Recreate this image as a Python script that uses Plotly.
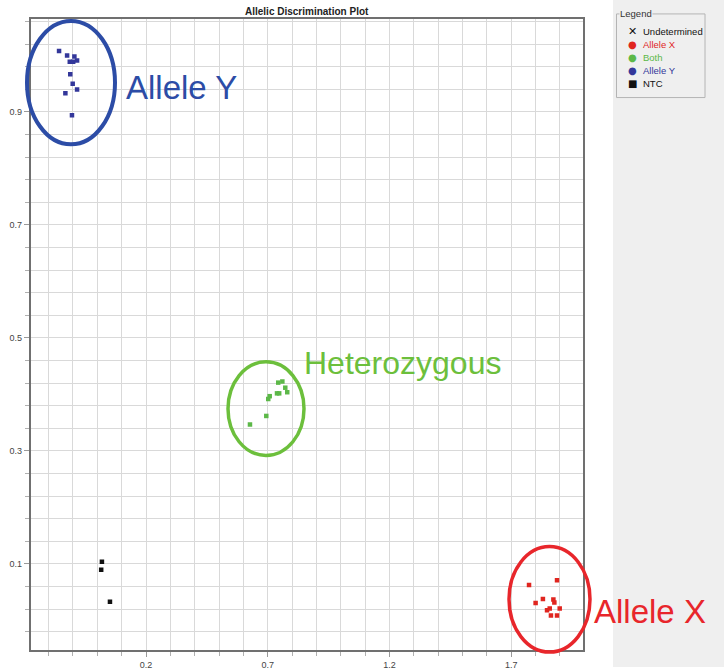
import plotly.graph_objects as go

# Allelic discrimination results (Allele X signal vs Allele Y signal)
allele_y_x = [-0.157, -0.124, -0.094, -0.113, -0.099, -0.083, -0.111, -0.101, -0.083, -0.131, -0.104]
allele_y_y = [1.008, 1.000, 0.998, 0.989, 0.989, 0.991, 0.967, 0.950, 0.940, 0.933, 0.894]

both_x = [0.743, 0.760, 0.772, 0.780, 0.738, 0.747, 0.708, 0.702, 0.694, 0.627]
both_y = [0.421, 0.423, 0.412, 0.404, 0.402, 0.402, 0.397, 0.392, 0.362, 0.347]

allele_x_x = [1.773, 1.888, 1.830, 1.800, 1.873, 1.877, 1.858, 1.847, 1.899, 1.863, 1.888]
allele_x_y = [0.063, 0.071, 0.038, 0.031, 0.037, 0.032, 0.021, 0.018, 0.021, 0.009, 0.009]

ntc_x = [0.019, 0.016, 0.052]
ntc_y = [0.104, 0.090, 0.033]

legend_labels = ["Undetermined", "Allele X", "Both", "Allele Y", "NTC"]
legend_glyphs = ["\u2715", "\u25cf", "\u25cf", "\u25cf", "\u25a0"]

# Colours
BLUE = "#33379a"
GREEN = "#5cb848"
RED = "#e0251f"
BLACK = "#111111"
legend_colors = [BLACK, RED, GREEN, BLUE, BLACK]

W, H = 724, 670
FONT = "Liberation Sans, Arial, sans-serif"


def fx(p):
    return p / W


def fy(p):
    return 1 - p / H


fig = go.Figure()

for xs, ys, col, name in [
    (allele_y_x, allele_y_y, BLUE, "Allele Y"),
    (both_x, both_y, GREEN, "Both"),
    (allele_x_x, allele_x_y, RED, "Allele X"),
    (ntc_x, ntc_y, BLACK, "NTC"),
]:
    fig.add_trace(go.Scatter(
        x=xs, y=ys, mode="markers", name=name, showlegend=False,
        marker=dict(symbol="square", size=4.5, color=col, line=dict(width=0)),
    ))

grid = "#d9d9d9"
axis_common = dict(
    showgrid=True, gridcolor=grid, gridwidth=1, zeroline=False,
    showline=True, linecolor="#707070", linewidth=1.5, mirror=True,
    ticks="outside", ticklen=5, tickcolor="#9a9a9a",
    tickfont=dict(family=FONT, size=9, color="#444444"),
    tickformat=".1f",
)

fig.update_layout(
    width=W, height=H, autosize=False,
    margin=dict(l=0, r=0, t=0, b=0),
    paper_bgcolor="white", plot_bgcolor="white",
    showlegend=False,
    xaxis=dict(
        domain=[fx(30.5), fx(582.7)], range=[-0.2743, 1.9934],
        tick0=0.2, dtick=0.5,
        minor=dict(tick0=0.2, dtick=0.1, showgrid=True, gridcolor=grid,
                   ticks="outside", ticklen=4, tickcolor="#b0b0b0"),
        **axis_common,
    ),
    yaxis=dict(
        domain=[fy(653.3), fy(19.3)], range=[-0.0529, 1.0642],
        tick0=0.1, dtick=0.2,
        minor=dict(tick0=0.1, dtick=0.04, showgrid=True, gridcolor=grid,
                   ticks="outside", ticklen=4, tickcolor="#b0b0b0"),
        **axis_common,
    ),
)

shapes = []
# Side panel holding the legend
shapes.append(dict(type="rect", xref="paper", yref="paper",
                   x0=fx(613), x1=fx(W), y0=fy(H), y1=fy(0),
                   fillcolor="#efefef", line=dict(width=0), layer="below"))
# Legend frame
shapes.append(dict(type="rect", xref="paper", yref="paper",
                   x0=fx(616.5), x1=fx(705), y0=fy(98), y1=fy(14),
                   fillcolor="rgba(0,0,0,0)", line=dict(color="#b4b4b4", width=1)))

# Cluster outlines
for (x0, x1, y0, y1, col, lw) in [
    (27, 115, 21, 145, "#2c4ca6", 4),
    (228, 304, 363.5, 457.5, "#6cbf3c", 3.5),
    (509, 590, 549, 655, "#e8262b", 3.5),
]:
    shapes.append(dict(type="circle", xref="paper", yref="paper",
                       x0=fx(x0), x1=fx(x1), y0=fy(y1), y1=fy(y0),
                       line=dict(color=col, width=lw), layer="above"))

fig.update_layout(shapes=shapes)

ann = []
ann.append(dict(text="<b>Allelic Discrimination Plot</b>", xref="paper", yref="paper",
                x=fx(306.5), y=fy(12), xanchor="center", yanchor="middle",
                showarrow=False, font=dict(family=FONT, size=10, color="#222222")))

for text, col, x, y, size in [
    ("Allele Y", "#2c4ca6", 124, 88, 33),
    ("Heterozygous", "#6cbf3c", 302, 365, 32),
    ("Allele X", "#e8262b", 592, 614, 33),
]:
    ann.append(dict(text=text, xref="paper", yref="paper", x=fx(x), y=fy(y),
                    xanchor="left", yanchor="middle", showarrow=False,
                    font=dict(family=FONT, size=size, color=col)))

ann.append(dict(text="Legend", xref="paper", yref="paper", x=fx(619), y=fy(14),
                xanchor="left", yanchor="middle", showarrow=False,
                bgcolor="#efefef", borderpad=0,
                font=dict(family=FONT, size=9.5, color="#333333")))

row_y = [32, 44.5, 57.5, 70.5, 83.5]
for lab, glyph, col, y in zip(legend_labels, legend_glyphs, legend_colors, row_y):
    ann.append(dict(text=glyph, xref="paper", yref="paper", x=fx(632.5), y=fy(y),
                    xanchor="center", yanchor="middle", showarrow=False,
                    font=dict(family="DejaVu Sans", size=10 if glyph != "\u2715" else 11,
                              color=col)))
    ann.append(dict(text=lab, xref="paper", yref="paper", x=fx(641), y=fy(y),
                    xanchor="left", yanchor="middle", showarrow=False,
                    font=dict(family=FONT, size=9.5, color=col)))

fig.update_layout(annotations=ann)

fig.write_html("out.html")
